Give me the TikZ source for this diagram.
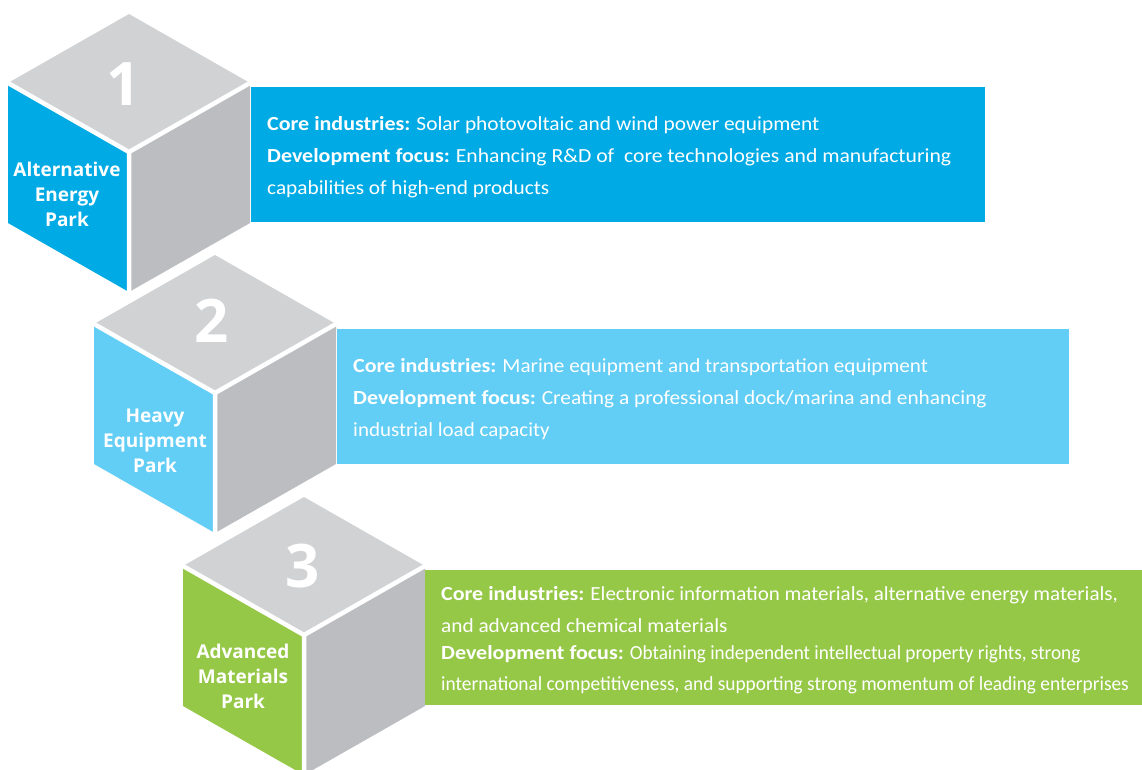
\documentclass[tikz,border=0pt]{standalone}
\usepackage{fontspec}
\setmainfont{Carlito}
\newfontfamily\labfont{Open Sans}
\definecolor{bluedark}{RGB}{0,170,228}
\definecolor{bluelight}{RGB}{98,205,245}
\definecolor{parkgreen}{RGB}{150,200,72}
\definecolor{topgray}{RGB}{209,210,212}
\definecolor{sidegray}{RGB}{188,189,192}
\newcommand\hd[1]{{\bfseries\addfontfeatures{FakeStretch=1.1}#1}}
\newcommand\bd[2]{{\addfontfeatures{FakeStretch=#1}#2}}
\newcommand\parkcube[3]{%
  \begin{scope}[shift={(#1,#2)}]
    \fill[topgray] (0,-138) -- (121,-69) -- (0,0) -- (-121,-69) -- cycle;
    \fill[#3] (-121,-69) -- (0,0) -- (0,140) -- (-121,71) -- cycle;
    \fill[sidegray] (0,0) -- (121,-69) -- (121,71) -- (0,140) -- cycle;
    \draw[white, line width=4.5pt] (-125,-71.3) -- (0,0) -- (125,-71.3) (0,0) -- (0,146);
  \end{scope}}
\begin{document}
\begin{tikzpicture}[x=1pt,y=-1pt,
  numtext/.style={text=white, font=\labfont\bfseries\fontsize{60}{60}\selectfont, inner sep=0pt},
  parklabel/.style={text=white, align=center, font=\labfont\bfseries\fontsize{19}{25}\selectfont, inner sep=0pt},
  infoline/.style={text=white, anchor=base west, inner sep=0pt, font=\fontsize{20}{24}\selectfont}]
\useasboundingbox (0,0) rectangle (1142,769);
\clip (0,0) rectangle (1142,769);
% cube 1
\parkcube{129}{152}{bluedark}
\fill[bluedark] (251,87) rectangle (985,222);
\node[numtext] (n1) at (124,84) {1};
\node[parklabel] (l1) at (67,194) {Alternative\\Energy\\Park};
\node[infoline] (a1) at (267,130) {\hd{Core industries:} \bd{1.07}{Solar photovoltaic and wind power equipment}};
\node[infoline] (a2) at (267,162) {\hd{Development focus:} \bd{1.083}{Enhancing R\&D of\ \ core technologies and manufacturing}};
\node[infoline] (a3) at (267,194) {\bd{1.064}{capabilities of high-end products}};
% cube 2
\parkcube{215}{393}{bluelight}
\fill[bluelight] (337,329) rectangle (1069,464);
\node[numtext] (n2) at (212,321) {2};
\node[parklabel] (l2) at (155,441) {Heavy\\Equipment\\Park};
\node[infoline] (b1) at (353,372) {\hd{Core industries:} \bd{1.057}{Marine equipment and transportation equipment}};
\node[infoline] (b2) at (353,404) {\hd{Development focus:} \bd{1.067}{Creating a professional dock/marina and enhancing}};
\node[infoline] (b3) at (353,436) {\bd{1.05}{industrial load capacity}};
% cube 3
\parkcube{304}{635}{parkgreen}
\fill[parkgreen] (425,570) rectangle (1142,705);
\node[numtext] (n3) at (303,566) {3};
\node[parklabel] (l3) at (243,676) {Advanced\\Materials\\Park};
\node[infoline] (c1) at (441,600) {\hd{Core industries:} \bd{1.05}{Electronic information materials, alternative energy materials,}};
\node[infoline] (c2) at (441,632) {\bd{1.063}{and advanced chemical materials}};
\node[infoline] (c3) at (441,659) {\hd{Development focus:} \bd{0.96}{Obtaining independent intellectual property rights, strong}};
\node[infoline] (c4) at (441,690) {\bd{0.967}{international competitiveness, and supporting strong momentum of leading enterprises}};
\end{tikzpicture}
\end{document}
